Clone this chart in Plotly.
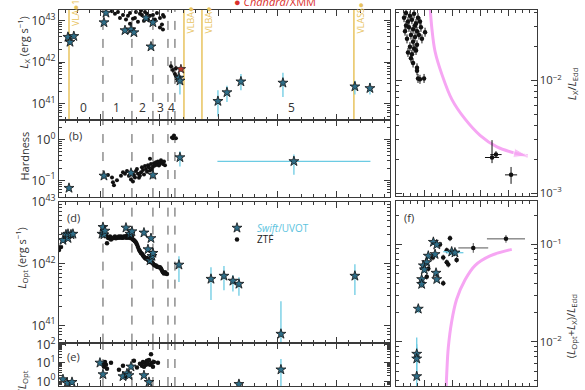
import plotly.graph_objects as go

W, H = 585, 390

# ---------------- DATA (time in days, luminosities / ratios as log10 values) ----------------
# Panel (a): X-ray luminosity
xrt_t = [44.0, 47.5, 54.0, 105.1, 108.5, 140.7, 150.9, 155.9, 176.3, 188.1, 184.8, 232.2, 233.9,
         298.3, 313.6, 337.3, 408.5, 530.5, 556.0]
xrt_logL = [42.60, 42.48, 42.62, 42.95, 43.18, 42.76, 42.78, 42.71, 43.06, 42.95, 42.37, 41.62, 41.55,
            41.06, 41.27, 41.53, 41.50, 41.41, 41.37]
xrt_up = [0.05] * 11 + [0.08, 0.10, 0.26, 0.16, 0.18, 0.24, 0.14, 0.13]
xrt_dn = [0.05] * 11 + [0.08, 0.33, 0.37, 0.23, 0.21, 0.34, 0.19, 0.15]

nicer_t = [118.7, 123.7, 128.8, 132.2, 137.3, 142.4, 145.8, 149.2, 149.2, 154.2, 157.6, 159.3, 162.7,
           166.1, 167.8, 169.5, 172.9, 174.6, 178.0, 179.7, 183.1, 186.5, 188.1, 191.5, 194.9, 200.0,
           200.0, 203.4, 205.1, 205.1, 206.8, 218.7, 222.0, 225.4, 227.1, 228.8]
nicer_logL = [43.22, 43.16, 43.20, 43.06, 43.13, 43.02, 43.11, 43.18, 42.92, 43.04, 43.06, 43.20, 42.97,
              43.16, 43.23, 43.13, 42.99, 43.20, 43.16, 43.02, 43.11, 42.97, 43.13, 43.02, 43.18, 43.06,
              42.83, 42.90, 42.78, 43.13, 43.09, 41.90, 41.81, 41.71, 41.85, 41.64]
nicer_err = [0.03] * 31 + [0.12, 0.08, 0.08, 0.06, 0.08]

chandra_t = [235.6]
chandra_logL = [41.83]

# Panel (b): hardness ratio
hr_star_t = [45.8, 105.1, 150.9, 188.1, 233.9, 427.1]
hr_star_log = [-1.19, -0.89, -0.82, -0.87, -0.44, -0.535]
hr_star_up = [0.06, 0.03, 0.03, 0.03, 0.15, 0.165]
hr_star_dn = [0.08, 0.03, 0.03, 0.03, 0.22, 0.33]
hr_star_terr = [0, 0, 0, 0, 0, 129.7]

hr_t = [111.9, 118.7, 120.3, 122.0, 127.1, 133.9, 137.3, 140.7, 144.1, 147.5, 150.9, 154.2, 155.9,
        157.6, 159.3, 161.0, 162.7, 164.4, 166.1, 167.8, 169.5, 171.2, 172.9, 174.6, 176.3, 178.0,
        179.7, 181.4, 183.1, 184.8, 186.5, 188.1, 189.8, 191.5, 193.2, 194.9, 196.6, 198.3, 200.0,
        201.7, 203.4, 205.1, 206.8, 208.5, 183.1, 220.4, 223.7, 227.1, 222.0]
hr_log = [-0.87, -0.93, -1.05, -1.12, -1.00, -0.89, -0.80, -0.84, -0.77, -0.89, -0.98, -1.03, -0.87,
          -0.93, -0.77, -0.72, -0.84, -0.94, -0.89, -0.80, -0.68, -0.75, -0.86, -0.65, -0.72, -0.79,
          -0.63, -0.68, -0.76, -0.60, -0.72, -0.67, -0.58, -0.64, -0.56, -0.62, -0.54, -0.64, -0.59,
          -0.51, -0.56, -0.60, -0.54, -0.63, -0.47, 0.05, 0.10, 0.03, 0.03]

# Panel (d): optical luminosity
uvot_t = [35.6, 40.7, 44.1, 44.1, 49.2, 52.5, 101.7, 103.4, 105.1, 106.8, 142.4, 149.2, 152.5,
          172.9, 179.7, 183.1, 184.8, 186.5, 188.1, 232.2, 286.5, 308.5, 323.7, 333.9, 405.1, 530.5]
uvot_logL = [42.38, 42.47, 42.41, 42.48, 42.47, 42.48, 42.48, 42.59, 42.47, 42.53, 42.58, 42.48, 42.52,
             42.50, 42.23, 42.05, 42.41, 42.12, 42.17, 41.98, 41.75, 41.80, 41.72, 41.67, 40.86, 41.80]
uvot_up = [0.03] * 19 + [0.14, 0.19, 0.16, 0.09, 0.11, 0.53, 0.19]
uvot_dn = [0.03] * 19 + [0.28, 0.34, 0.23, 0.17, 0.19, 0.20, 0.31]

ztf_t = [28.8, 32.2,
         105.1, 106.8, 108.5, 110.2, 111.9, 113.6, 115.3, 117.0, 118.7, 120.3, 122.0, 123.7, 125.4,
         127.1, 128.8, 130.5, 132.2, 133.9, 135.6, 137.3, 139.0, 140.7, 142.4, 144.1, 145.8, 147.5,
         149.2, 150.9, 152.5, 154.2, 155.9, 157.6,
         159.3, 161.0, 162.7, 164.4, 166.1, 167.8, 169.5, 171.2, 172.9, 174.6, 176.3, 178.0, 179.7,
         181.4, 183.1, 184.8, 186.5, 188.1, 189.8, 191.5, 193.2, 194.9, 196.6, 198.3, 200.0, 201.7,
         203.4, 205.1, 206.8, 208.5, 210.2, 211.9]
ztf_logL = [42.22, 42.27,
            42.53, 42.50, 42.45, 42.33, 42.42, 42.41, 42.44, 42.39, 42.42, 42.41, 42.42, 42.44, 42.41,
            42.42, 42.42, 42.44, 42.42, 42.44, 42.42, 42.42, 42.44, 42.44, 42.42, 42.45, 42.42, 42.44,
            42.42, 42.41, 42.44, 42.39, 42.38, 42.36,
            42.34, 42.31, 42.27, 42.23, 42.20, 42.17, 42.16, 42.13, 42.11, 42.09, 42.08, 42.09, 42.06,
            42.05, 42.03, 42.02, 42.02, 42.00, 41.98, 41.97, 41.97, 41.95, 41.95, 41.94, 41.94, 41.92,
            41.89, 41.86, 41.84, 41.86, 41.84, 41.83]

# Panel (e): L_X / L_Opt
rat_star_t = [35.6, 42.4, 50.9, 98.3, 103.4, 137.3, 144.1, 147.5, 150.9, 172.9, 181.4, 333.9, 405.1]
rat_star_log = [0.10, -0.10, -0.05, 1.00, 0.37, 0.26, 0.42, 0.32, 0.79, 0.32, -0.05, -0.16, 0.63]
rat_star_up = [0.05] * 11 + [0.20, 0.58]
rat_star_dn = [0.05] * 11 + [0.30, 1.50]
rat_dot_t = [101.7, 105.1, 108.5, 110.2, 106.8, 117.0, 130.5, 137.3, 142.4, 155.9, 161.0, 166.1, 169.5,
             171.2, 172.9, 174.6, 176.3, 178.0, 179.7, 181.4, 183.1, 184.8, 186.5, 188.1, 189.8, 196.6]
rat_dot_log = [0.95, 0.79, 0.89, 0.68, 1.05, 1.00, 0.63, 0.84, 0.26, 1.11, 0.74, 0.95, 0.84,
               1.05, 0.79, 1.00, 0.89, 1.11, 0.95, 1.16, 0.89, 1.47, 1.00, 0.79, 1.05, 1.00]

# Panel (c): L_X / L_Edd (x in arbitrary normalised units)
c_x = [0.057, 0.071, 0.085, 0.099, 0.113, 0.128, 0.142, 0.156, 0.170, 0.092, 0.121, 0.149, 0.177,
       0.064, 0.106, 0.135, 0.163, 0.078, 0.121, 0.149, 0.099, 0.128, 0.085, 0.113, 0.142, 0.106,
       0.121, 0.149, 0.149, 0.156, 0.170, 0.199, 0.206, 0.184, 0.071, 0.135, 0.681, 0.709, 0.816]
c_log = [-1.444, -1.402, -1.479, -1.427, -1.462, -1.410, -1.496, -1.444, -1.479, -1.530, -1.547,
         -1.564, -1.530, -1.564, -1.598, -1.615, -1.598, -1.632, -1.658, -1.684, -1.701, -1.718,
         -1.752, -1.769, -1.735, -1.803, -1.846, -1.889, -1.915, -1.983, -1.991, -1.983, -1.573,
         -1.632, -1.513, -1.513, -2.684, -2.658, -2.838]
c_xerr = [0.01] * 36 + [0.050, 0.040, 0.043]
c_up = [0.04] * 36 + [0.154, 0.03, 0.07]
c_dn = [0.04] * 36 + [0.05, 0.03, 0.08]

# Panel (f): (L_Opt + L_X) / L_Edd
f_star_x = [0.265, 0.289, 0.229, 0.277, 0.218, 0.194, 0.201, 0.284, 0.289, 0.182, 0.182, 0.395, 0.418,
            0.158, 0.147, 0.147, 0.147]
f_star_log = [-0.977, -1.003, -1.119, -1.102, -1.185, -1.218, -1.260, -1.294, -1.359, -1.359, -1.409,
              -1.076, -1.086, -1.663, -2.126, -2.175, -2.356]
f_star_xerr = [0.01] * 11 + [0.06, 0.06] + [0.01] * 4
f_star_up = [0.03] * 13 + [0.04, 0.17, 0.15, 0.30]
f_star_dn = [0.03] * 13 + [0.04, 0.10, 0.15, 0.30]
f_dot_x = [0.312, 0.383, 0.360, 0.335, 0.360, 0.371, 0.430, 0.229, 0.218, 0.182, 0.335, 0.262, 0.548, 0.780]
f_dot_log = [-1.003, -0.938, -1.062, -1.136, -1.185, -1.208, -1.161, -1.250, -1.334, -1.416, -1.399,
             -1.136, -1.037, -0.944]
f_dot_xerr = [0.015] * 12 + [0.106, 0.135]
f_dot_err = [0.03] * 12 + [0.05, 0.04]

# evolution tracks (pink)
arrow_c_x = [0.241, 0.255, 0.277, 0.326, 0.397, 0.489, 0.596, 0.716, 0.858, 0.935]
arrow_c_log = [-1.333, -1.547, -1.744, -1.949, -2.171, -2.342, -2.487, -2.590, -2.650, -2.670]
arrow_f_x = [0.821, 0.667, 0.560, 0.489, 0.430, 0.395, 0.371, 0.360, 0.355]
arrow_f_log = [-1.052, -1.119, -1.218, -1.366, -1.564, -1.792, -2.059, -2.324, -2.505]

# phases and radio epochs
phase_bounds = [103.4, 152.5, 188.1, 213.6, 225.4]
phase_labels = ["0", "1", "2", "3", "4", "5"]
phase_label_t = [71.2, 127.1, 171.2, 201.7, 220.4, 423.8]
radio_t = [45.8, 240.7, 271.2, 528.8]
radio_labels = ["VLA●1", "VLBA●", "VLBA●", "VLASS●"]

# tick label aliases
alias_b = {"1": "10<sup>0</sup>"}
alias_e = {"1": "10<sup>0</sup>", "10": "10<sup>1</sup>", "100": "10<sup>2</sup>"}

# ---------------- STYLE ----------------
FONT = "Open Sans"
STAR_FILL = "#2f6e88"
ERR_CYAN = "#6ccbe3"
DOT = "#111111"
PINK = "#f6a6f3"
GOLD = "#e8c35e"
AX = "#3a3a3a"


def lin(logs):
    return [10 ** v for v in logs]


def errp(logs, up):
    return [10 ** (v + u) - 10 ** v for v, u in zip(logs, up)]


def errm(logs, dn):
    return [10 ** v - 10 ** (v - d) for v, d in zip(logs, dn)]


star_marker = dict(symbol="star", size=7.5, color=STAR_FILL, line=dict(color="#111", width=0.8))
dot_marker = dict(symbol="circle", size=4, color=DOT)
dot_marker5 = dict(symbol="circle", size=4.5, color=DOT)

fig = go.Figure()


def add(tr):
    fig.add_trace(tr)


# (a)
add(go.Scatter(x=nicer_t, y=lin(nicer_logL), mode="markers", marker=dot_marker, xaxis="x", yaxis="y",
               error_y=dict(type="data", array=errp(nicer_logL, nicer_err), arrayminus=errm(nicer_logL, nicer_err),
                            color=DOT, thickness=1, width=0), showlegend=False))
add(go.Scatter(x=xrt_t, y=lin(xrt_logL), mode="markers", marker=star_marker, xaxis="x", yaxis="y",
               error_y=dict(type="data", array=errp(xrt_logL, xrt_up), arrayminus=errm(xrt_logL, xrt_dn),
                            color=ERR_CYAN, thickness=1.3, width=0), showlegend=False))
add(go.Scatter(x=chandra_t, y=lin(chandra_logL), mode="markers", xaxis="x", yaxis="y",
               marker=dict(symbol="star", size=7, color="#b8342c", line=dict(color="#222", width=0.8)),
               showlegend=False))

# (b)
add(go.Scatter(x=hr_t, y=lin(hr_log), mode="markers", marker=dot_marker, xaxis="x2", yaxis="y2",
               showlegend=False))
add(go.Scatter(x=hr_star_t, y=lin(hr_star_log), mode="markers", marker=star_marker, xaxis="x2", yaxis="y2",
               error_y=dict(type="data", array=errp(hr_star_log, hr_star_up), arrayminus=errm(hr_star_log, hr_star_dn),
                            color=ERR_CYAN, thickness=1.3, width=0),
               error_x=dict(type="data", array=hr_star_terr, color=ERR_CYAN, thickness=1.3, width=0),
               showlegend=False))

# (d)
add(go.Scatter(x=ztf_t, y=lin(ztf_logL), mode="markers", marker=dot_marker5, xaxis="x3", yaxis="y3",
               name="ZTF", showlegend=True, legend="legend2"))
add(go.Scatter(x=uvot_t, y=lin(uvot_logL), mode="markers", marker=star_marker, xaxis="x3", yaxis="y3",
               error_y=dict(type="data", array=errp(uvot_logL, uvot_up), arrayminus=errm(uvot_logL, uvot_dn),
                            color=ERR_CYAN, thickness=1.3, width=0),
               name='<span style="color:#5bc3de"><i>Swift</i>/UVOT</span>', showlegend=True, legend="legend"))

# (e)
add(go.Scatter(x=rat_dot_t, y=lin(rat_dot_log), mode="markers", marker=dot_marker5,
               xaxis="x4", yaxis="y4", showlegend=False))
add(go.Scatter(x=rat_star_t, y=lin(rat_star_log), mode="markers", marker=star_marker, xaxis="x4", yaxis="y4",
               error_y=dict(type="data", array=errp(rat_star_log, rat_star_up), arrayminus=errm(rat_star_log, rat_star_dn),
                            color=ERR_CYAN, thickness=1.3, width=0), showlegend=False))

# (c)
add(go.Scatter(x=arrow_c_x, y=lin(arrow_c_log), mode="lines+markers", xaxis="x5", yaxis="y5",
               line=dict(color=PINK, width=3, shape="spline"),
               marker=dict(symbol="arrow", size=[0] * (len(arrow_c_x) - 1) + [15], color=PINK, angleref="previous"),
               showlegend=False))
add(go.Scatter(x=c_x, y=lin(c_log), mode="markers", marker=dot_marker5,
               xaxis="x5", yaxis="y5",
               error_y=dict(type="data", array=errp(c_log, c_up), arrayminus=errm(c_log, c_dn), color=DOT, thickness=1, width=0),
               error_x=dict(type="data", array=c_xerr, color=DOT, thickness=1, width=0), showlegend=False))

# (f)
add(go.Scatter(x=arrow_f_x, y=lin(arrow_f_log), mode="lines", xaxis="x6", yaxis="y6",
               line=dict(color=PINK, width=3, shape="spline"), showlegend=False))
add(go.Scatter(x=f_dot_x, y=lin(f_dot_log), mode="markers", marker=dot_marker5,
               xaxis="x6", yaxis="y6",
               error_y=dict(type="data", array=errp(f_dot_log, f_dot_err), arrayminus=errm(f_dot_log, f_dot_err), color="#555", thickness=1, width=0),
               error_x=dict(type="data", array=f_dot_xerr, color="#555", thickness=1, width=0), showlegend=False))
add(go.Scatter(x=f_star_x, y=lin(f_star_log), mode="markers", marker=star_marker, xaxis="x6", yaxis="y6",
               error_y=dict(type="data", array=errp(f_star_log, f_star_up), arrayminus=errm(f_star_log, f_star_dn), color=ERR_CYAN, thickness=1.3, width=0),
               error_x=dict(type="data", array=f_star_xerr, color=ERR_CYAN, thickness=1.3, width=0), showlegend=False))

# ---------------- LAYOUT ----------------
LX = [58.5 / W, 390 / W]
RX = [396 / W, 537 / W]


def ydom(top_px, bot_px):
    return [1 - bot_px / H, 1 - top_px / H]


base = dict(showline=True, linecolor=AX, linewidth=1, mirror="ticks", ticks="inside", ticklen=6,
            tickwidth=1, tickcolor=AX, showgrid=False, zeroline=False,
            tickfont=dict(family=FONT, size=10, color="#333"))
xleft = dict(base, range=[28, 590], tick0=0, dtick=100, showticklabels=False,
             minor=dict(ticks="inside", ticklen=3, dtick=20, tickcolor=AX))
xright = dict(base, range=[0, 1], tick0=0, dtick=0.2, showticklabels=False,
              minor=dict(ticks="inside", ticklen=3, dtick=0.05, tickcolor=AX))


def ylog(rng, dom, **kw):
    d = dict(base, type="log", range=rng, domain=dom, dtick=1, exponentformat="power",
             minor=dict(ticks="inside", ticklen=3, tickcolor=AX, dtick="D1"))
    d.update(kw)
    return d


rfont = dict(family=FONT, size=9, color="#333")
leg_common = dict(xanchor="left", yanchor="middle", bgcolor="rgba(0,0,0,0)", itemwidth=30,
                  font=dict(family=FONT, size=10, color="#222"))

fig.update_layout(
    width=W, height=H, margin=dict(l=0, r=0, t=0, b=0),
    paper_bgcolor="white", plot_bgcolor="white",
    font=dict(family=FONT, size=10, color="#333"),
    xaxis=dict(xleft, domain=LX, anchor="y"),
    yaxis=ylog([40.61, 43.25], ydom(0, 114), anchor="x"),
    xaxis2=dict(xleft, domain=LX, anchor="y2", matches="x"),
    yaxis2=ylog([-1.41, 0.48], ydom(114, 194), anchor="x2", labelalias=alias_b),
    xaxis3=dict(xleft, domain=LX, anchor="y3", matches="x"),
    yaxis3=ylog([40.72, 43.0], ydom(199, 345), anchor="x3"),
    xaxis4=dict(xleft, domain=LX, anchor="y4", matches="x"),
    yaxis4=ylog([-0.26, 2.1], ydom(345, 390), anchor="x4", labelalias=alias_e),
    xaxis5=dict(xright, domain=RX, anchor="y5"),
    yaxis5=ylog([-3.026, -1.376], ydom(0, 193), anchor="x5", side="right", tickfont=rfont),
    xaxis6=dict(xright, domain=RX, anchor="y6"),
    yaxis6=ylog([-2.455, -0.554], ydom(198, 390), anchor="x6", side="right", tickfont=rfont),
    legend=dict(leg_common, x=217 / W, y=1 - 226 / H),
    legend2=dict(leg_common, x=217 / W, y=1 - 238 / H),
)

shapes = []
for xa, ya in [("x", "y"), ("x2", "y2"), ("x3", "y3"), ("x4", "y4")]:
    for t in phase_bounds:
        shapes.append(dict(type="line", xref=xa, yref=f"{ya} domain", x0=t, x1=t, y0=0, y1=1,
                           line=dict(color="#555", width=1, dash="dash"), layer="below"))
for t in radio_t:
    shapes.append(dict(type="line", xref="x", yref="y domain", x0=t, x1=t, y0=0, y1=1,
                       line=dict(color=GOLD, width=1.5), layer="below"))
fig.update_layout(shapes=shapes)

ann = []
for lab, t in zip(phase_labels, phase_label_t):
    ann.append(dict(x=t, y=40.9, xref="x", yref="y", text=lab, showarrow=False,
                    font=dict(family=FONT, size=12, color="#333")))
radio_centers = [3, 10, 10, 8]
for lab, t, cy in zip(radio_labels, radio_t, radio_centers):
    ann.append(dict(x=t, y=1 - cy / H, xref="x", yref="paper", text=lab, textangle=-90, showarrow=False,
                    xshift=7, xanchor="center", yanchor="middle",
                    font=dict(family=FONT, size=9, color=GOLD)))


def pann(text, px, py, size=11, angle=0, color="#333"):
    ann.append(dict(x=px / W, y=1 - py / H, xref="paper", yref="paper", text=text, showarrow=False,
                    textangle=angle, xanchor="center", yanchor="middle",
                    font=dict(family=FONT, size=size, color=color)))


pann("(b)", 75, 130)
pann("(d)", 73, 215)
pann("(e)", 73, 359)
pann("(f)", 409, 215)
pann("● <i>Chandra</i>/XMM", 275, -9, size=11, color="#d9302c")
pann("<i>L</i><sub>X</sub> (erg s<sup>−1</sup>)", 24, 34, size=11, angle=-90)
pann("Hardness", 25, 152, size=11, angle=-90)
pann("<i>L</i><sub>Opt</sub> (erg s<sup>−1</sup>)", 22, 257, size=11, angle=-90)
pann("<i>L</i><sub>X</sub>/<i>L</i><sub>Opt</sub>", 22, 391, size=11, angle=-90)
pann("<i>L</i><sub>X</sub>/<i>L</i><sub>Edd</sub>", 572, 77, size=11, angle=-90)
pann("(<i>L</i><sub>Opt</sub>+<i>L</i><sub>X</sub>)/<i>L</i><sub>Edd</sub>", 571, 328, size=11, angle=-90)
fig.update_layout(annotations=ann)

fig.write_html("out.html", config={"displayModeBar": False},
               post_script="document.body.style.margin='0';document.body.style.overflow='hidden';")
